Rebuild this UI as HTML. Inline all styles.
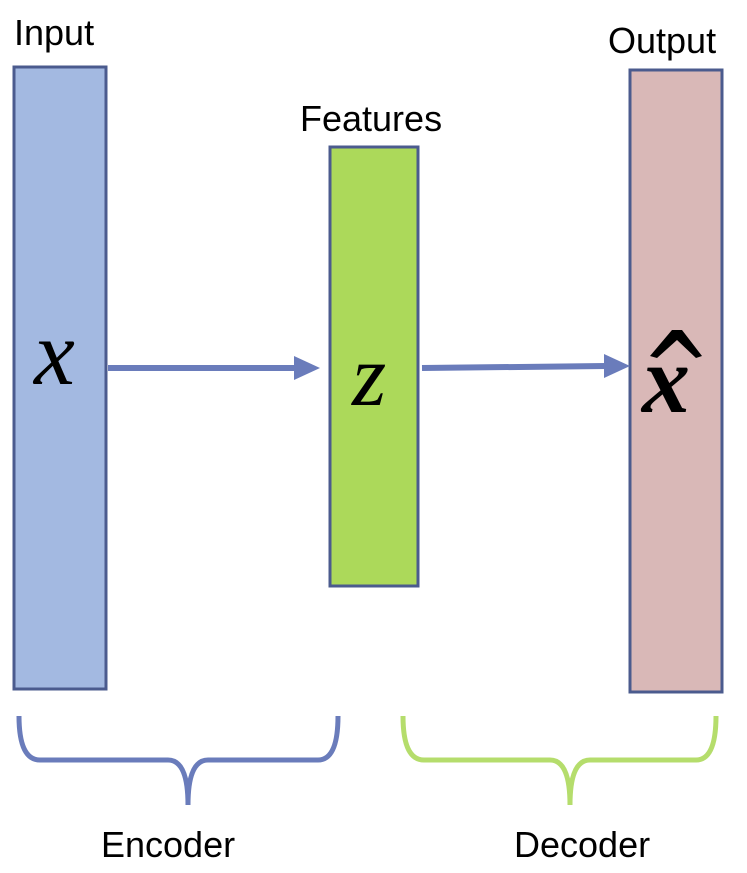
<!DOCTYPE html>
<html><head><meta charset="utf-8"><style>
html,body{margin:0;padding:0;background:#fff;}
svg{display:block;}
text{font-family:"Liberation Sans",sans-serif;fill:#000;}
</style></head><body>
<svg width="747" height="873" viewBox="0 0 747 873">
<rect x="14" y="67" width="92" height="622" fill="#a3b9e1" stroke="#4b5b8e" stroke-width="3"/>
<rect x="330" y="147" width="88" height="439" fill="#acd95a" stroke="#4b5b8e" stroke-width="3"/>
<rect x="630" y="70" width="92" height="622" fill="#d9b8b7" stroke="#4b5b8e" stroke-width="3"/>
<text x="14" y="45" font-size="36">Input</text>
<text x="300" y="131" font-size="36">Features</text>
<text x="608" y="53" font-size="36">Output</text>
<g>
<line x1="108" y1="368" x2="296" y2="368" stroke="#6a7cbb" stroke-width="6"/>
<polygon points="294,356 320,368 294,380" fill="#6a7cbb"/>
</g>
<g>
<line x1="422" y1="368" x2="606" y2="366" stroke="#6a7cbb" stroke-width="6"/>
<polygon points="604,354 630,366 604,378" fill="#6a7cbb"/>
</g>
<text x="34" y="384" font-size="92" font-style="italic" style="font-family:'Liberation Serif',serif">x</text>
<text x="352" y="405" font-size="88" font-style="italic" style="font-family:'Liberation Serif',serif">z</text>
<text x="642" y="412" font-size="96" font-style="italic" font-weight="bold" style="font-family:'Liberation Serif',serif">x</text>
<path d="M650,356 L672,330 L682,330 L702,356 L696,358 L677,340 L657,358 Z" fill="#000"/>
<path d="M19,716 Q19,760 40,760 L168,760 Q188,760 188,805 Q188,760 208,760 L318,760 Q338,760 338,716" fill="none" stroke="#6a7cbb" stroke-width="5"/>
<path d="M403,716 Q403,760 424,760 L550,760 Q570,760 570,805 Q570,760 590,760 L696,760 Q716,760 716,716" fill="none" stroke="#b5dd6c" stroke-width="5"/>
<text x="101" y="857" font-size="36">Encoder</text>
<text x="514" y="857" font-size="36">Decoder</text>
</svg>
</body></html>
